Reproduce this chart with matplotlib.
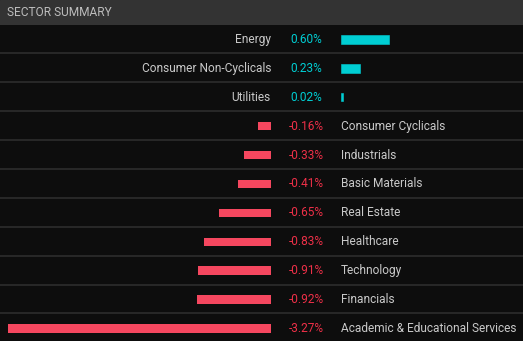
import matplotlib.pyplot as plt

sectors = ["Energy", "Consumer Non-Cyclicals", "Utilities", "Consumer Cyclicals",
           "Industrials", "Basic Materials", "Real Estate", "Healthcare",
           "Technology", "Financials", "Academic & Educational Services"]
changes = [0.60, 0.23, 0.02, -0.16, -0.33, -0.41, -0.65, -0.83, -0.91, -0.92, -3.27]

W, H = 523, 341
HEADER = 25
ROW = 28.9
BG = "#0d0d0d"
CYAN = "#00ced3"
RED_BAR = "#f5475f"
RED_TXT = "#ee3048"
TXT = "#c9c9c9"
FONT = "Roboto"
FS = 8.6

fig = plt.figure(figsize=(W / 100, H / 100), dpi=100)
fig.patch.set_facecolor(BG)

# header strip
hdr = fig.add_axes([0, 1 - HEADER / H, 1, HEADER / H])
hdr.set_xlim(0, W)
hdr.set_ylim(0, 1)
hdr.axis("off")
hdr.add_patch(plt.Rectangle((0, 0), W, 1, color="#333333"))
hdr.text(7, 0.5, "SECTOR SUMMARY", color="#bdbdbd", fontsize=FS,
         family=FONT, va="center", ha="left")

n = len(sectors)
body_px = n * ROW
body = [0, (H - HEADER - body_px) / H, 1, body_px / H]

# background axes for text and separators
bg = fig.add_axes(body)
bg.set_xlim(0, W)
bg.set_ylim(n, 0)
bg.axis("off")
for i in range(1, n):
    bg.axhline(i - 0.02, color="#2a2a2a", lw=1.3)

for i, (name, v) in enumerate(zip(sectors, changes)):
    yc = i + 0.5
    if v >= 0:
        bg.text(271, yc, name, color=TXT, fontsize=FS, family=FONT, ha="right", va="center")
        bg.text(290, yc, f"{v:.2f}%", color=CYAN, fontsize=FS, family=FONT, ha="left", va="center")
    else:
        bg.text(289, yc, f"{v:.2f}%", color=RED_TXT, fontsize=FS, family=FONT, ha="left", va="center")
        bg.text(341, yc, name, color=TXT, fontsize=FS, family=FONT, ha="left", va="center")

px_per_pct = 80.5
neg = [(i, v) for i, v in enumerate(changes) if v < 0]
pos = [(i, v) for i, v in enumerate(changes) if v >= 0]

# negative bars, right edge at zero
axn = fig.add_axes([0, body[1], 271 / W, body[3]])
axn.set_xlim(-271 / px_per_pct, 0)
axn.set_ylim(n, 0)
axn.axis("off")
axn.barh([i + 0.5 for i, _ in neg], [v for _, v in neg], height=0.29, color=RED_BAR)

# positive bars, starting at zero
axp = fig.add_axes([341 / W, body[1], (W - 341) / W, body[3]])
axp.set_xlim(0, (W - 341) / px_per_pct)
axp.set_ylim(n, 0)
axp.axis("off")
axp.barh([i + 0.5 for i, _ in pos], [v for _, v in pos], height=0.29,
         color=CYAN, edgecolor=CYAN, lw=0.4)

fig.savefig("out.png", dpi=100, facecolor=BG)
